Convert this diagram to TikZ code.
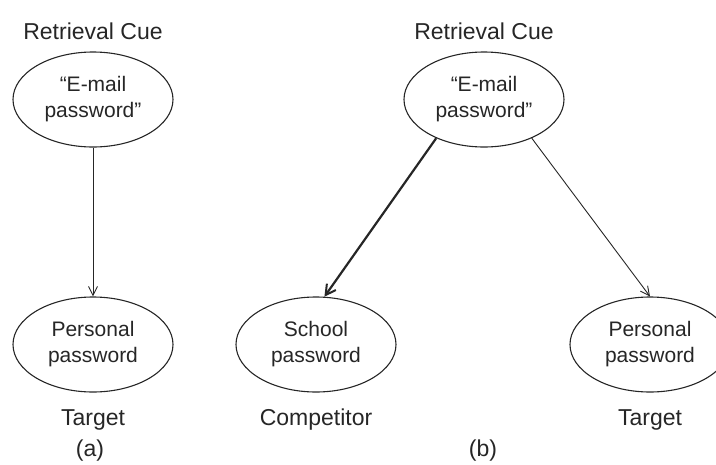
\documentclass[tikz,border=0pt]{standalone}
\usepackage{fontspec}
\setmainfont{Liberation Sans}
\usetikzlibrary{shapes.geometric,arrows.meta}
\begin{document}
\begin{tikzpicture}[x=1pt,y=-1pt,
  every node/.style={text=black!85},
  oval/.style={ellipse, draw=black!85, line width=1.1pt, minimum width=160pt, minimum height=95pt, inner sep=0pt, align=center, font=\fontsize{21}{26}\selectfont},
  lbl/.style={inner sep=0pt, font=\fontsize{23}{27}\selectfont},
  thinarrow/.style={draw=black!85, line width=0.9pt, -{Straight Barb[length=9pt,width=9pt,line width=0.9pt]}},
  thickarrow/.style={draw=black!85, line width=2.2pt, -{Straight Barb[length=10pt,width=11pt,line width=2pt]}}]
\useasboundingbox (0,0) rectangle (716,464);
\clip (0,0) rectangle (716,464);
% (a)
\node[lbl] (rca) at (93,31) {Retrieval Cue};
\node[oval] (cuea) at (93,99.5) {“E-mail\\password”};
\node[oval] (perA) at (93,344.5) {Personal\\password};
\node[lbl] (tgta) at (93,420) {Target};
\node[lbl] (capa) at (90,451) {(a)};
\draw[thinarrow] (cuea.south) -- (perA.north);
% (b)
\node[lbl] (rcb) at (484,31) {Retrieval Cue};
\node[oval] (cueb) at (484,99.5) {“E-mail\\password”};
\node[oval] (school) at (316,344.5) {School\\password};
\node[oval] (perB) at (650,344.5) {Personal\\password};
\node[lbl] (comp) at (316,420) {Competitor};
\node[lbl] (tgtb) at (650,420) {Target};
\node[lbl] (capb) at (483,451) {(b)};
\draw[thickarrow] (cueb.-141) -- (school.80);
\draw[thinarrow] (cueb.-39) -- (perB.north);
\end{tikzpicture}
\end{document}
